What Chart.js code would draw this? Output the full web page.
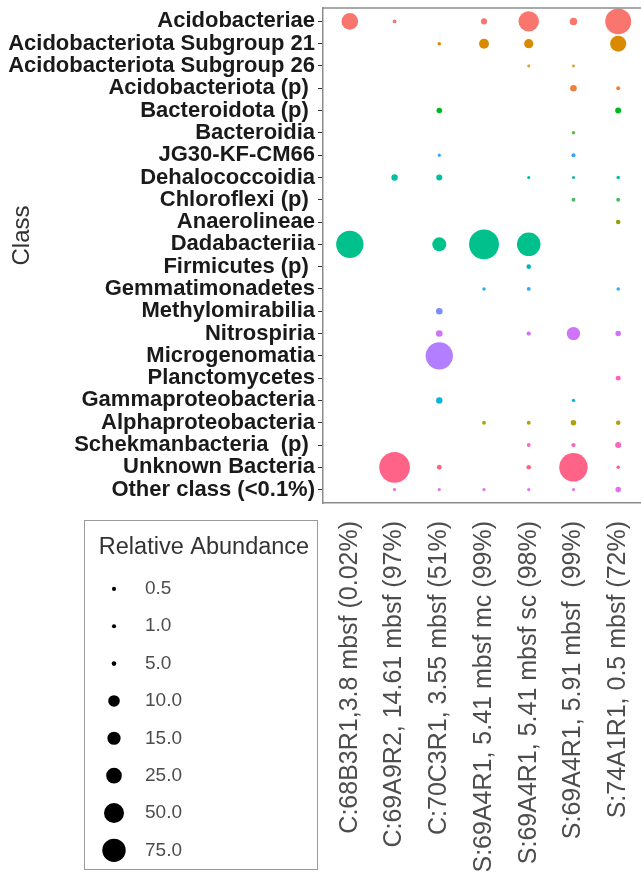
<!DOCTYPE html>
<html>
<head>
<meta charset="utf-8">
<script src="https://cdn.jsdelivr.net/npm/chart.js@4.4.1/dist/chart.umd.min.js"></script>
<style>
  html, body { margin: 0; padding: 0; background: #fff; overflow: hidden; }
  #wrap { position: relative; width: 641px; height: 880px; }
  #mainChart { position: absolute; left: 0; top: 0; }
  #legendBox { position: absolute; left: 84px; top: 520px; width: 232px; height: 348px;
               border: 1.5px solid #9a9a9a; background: #fff; }
</style>
</head>
<body>
<div id="wrap">
  <canvas id="mainChart" width="641" height="880"></canvas>
  <div id="legendBox"><canvas id="legendChart" width="232" height="348"></canvas></div>
</div>
<script>
// samples along the x axis
const samples = [
  'C:68B3R1,3.8 mbsf (0.02%)',
  'C:69A9R2, 14.61 mbsf (97%)',
  'C:70C3R1, 3.55 mbsf (51%)',
  'S:69A4R1, 5.41 mbsf mc (99%)',
  'S:69A4R1, 5.41 mbsf sc (98%)',
  'S:69A4R1, 5.91 mbsf  (99%)',
  'S:74A1R1, 0.5 mbsf (72%)'
];

// classes, top to bottom
const classes = [
  'Acidobacteriae',
  'Acidobacteriota Subgroup 21',
  'Acidobacteriota Subgroup 26',
  'Acidobacteriota (p) ',
  'Bacteroidota (p) ',
  'Bacteroidia',
  'JG30-KF-CM66',
  'Dehalococcoidia',
  'Chloroflexi (p) ',
  'Anaerolineae',
  'Dadabacteriia',
  'Firmicutes (p) ',
  'Gemmatimonadetes',
  'Methylomirabilia',
  'Nitrospiria',
  'Microgenomatia',
  'Planctomycetes',
  'Gammaproteobacteria',
  'Alphaproteobacteria',
  'Schekmanbacteria  (p) ',
  'Unknown Bacteria',
  'Other class (<0.1%)'
];

// relative abundance (%) per sample, one value per class (null = absent)
const c68B3R1   = [22.5, null, null, null, null, null, null, null, null, null, 61, null, null, null, null, null, null, null, null, null, null, null];
const c69A9R2   = [1.2, null, null, null, null, null, null, 3.3, null, null, null, null, null, null, null, null, null, null, null, null, 77, 0.8];
const c70C3R1   = [null, 1.0, null, null, 2.5, null, 0.8, 3.0, null, null, 16, null, null, 3.6, 3.6, 61, null, 3.3, null, null, 2.0, 0.8];
const s69A4R1mc = [3.0, 8, null, null, null, null, null, null, null, null, 73, null, 1.0, null, null, null, null, null, 1.2, null, null, 0.8];
const s69A4R1sc = [34, 7, 0.7, null, null, null, null, 0.8, null, null, 45, 1.7, 1.2, null, 1.5, null, null, null, 1.2, 1.2, 1.7, 0.8];
const s69A4R1   = [4.5, null, 0.7, 3.5, null, 1.0, 1.3, 0.8, 1.2, null, null, null, null, null, 14.5, null, null, 0.9, 2.5, 1.5, 66, 0.8];
const s74A1R1   = [55, 21, null, 1.3, 3.0, null, null, 1.0, 1.3, 1.7, null, null, 1.0, null, 2.5, null, 2.0, null, 1.7, 3.0, 1.0, 2.5];
const abundance = [c68B3R1, c69A9R2, c70C3R1, s69A4R1mc, s69A4R1sc, s69A4R1, s74A1R1];

// size legend values
const legendValues = [0.5, 1.0, 5.0, 10.0, 15.0, 25.0, 50.0, 75.0];

const classColors = [
  '#F8766D', '#D98A00', '#D9A030', '#EC7F3D', '#00B81F', '#6DB33F', '#35A2FF', '#00BFA5',
  '#4CB963', '#95A000', '#00C08B', '#00B8B8', '#35A9F0', '#7B8CFF', '#D173F7', '#B37EFF',
  '#FF5FB8', '#00B5E0', '#B0A010', '#FF66B8', '#FF6388', '#E56DF0'
];

Chart.defaults.font.family = '"Liberation Sans", Arial, sans-serif';

function bubbleRadius(v) { return 1.75 * Math.sqrt(v); }
// the legend keys in the original are drawn on their own (smaller) size steps
function legendRadius(v) { return v >= 10 ? 2 + 1.3 * Math.pow(v, 0.465) : 2 + 0.06 * v; }

const datasets = classes.map((cls, ci) => ({
  label: cls,
  data: abundance
    .map((col, si) => ({ x: si, y: ci, v: col[ci] }))
    .filter(p => p.v != null)
    .map(p => ({ x: p.x, y: p.y, r: bubbleRadius(p.v) })),
  backgroundColor: classColors[ci],
  borderWidth: 0
}));

const panelTop = {
  id: 'panelTop',
  afterDraw(chart) {
    const { ctx, chartArea } = chart;
    ctx.save();
    ctx.strokeStyle = '#8c8c8c';
    ctx.lineWidth = 1.5;
    ctx.beginPath();
    ctx.moveTo(chartArea.left, chartArea.top);
    ctx.lineTo(chartArea.right, chartArea.top);
    ctx.stroke();
    ctx.restore();
  }
};

new Chart(document.getElementById('mainChart'), {
  type: 'bubble',
  data: { datasets },
  options: {
    responsive: false,
    animation: false,
    layout: { autoPadding: false, padding: { top: 8, right: 0, bottom: 0, left: 0 } },
    plugins: { legend: { display: false }, tooltip: { enabled: false } },
    scales: {
      x: {
        type: 'linear',
        min: -0.6,
        max: 6.51,
        afterBuildTicks: s => { s.ticks = samples.map((_, i) => ({ value: i })); },
        afterFit: s => { s.height = 377; s.paddingLeft = 0; s.paddingRight = 0; },
        ticks: {
          autoSkip: false, minRotation: 90, maxRotation: 90, padding: 18,
          color: '#4d4d4d', font: { size: 25 },
          callback: v => samples[v]
        },
        grid: { display: false, drawTicks: false },
        border: { display: true, color: '#8c8c8c', width: 1.5 }
      },
      y: {
        type: 'linear',
        min: -0.6,
        max: 21.6,
        reverse: true,
        afterBuildTicks: s => { s.ticks = classes.map((_, i) => ({ value: i })); },
        afterFit: s => { s.width = 323; s.paddingTop = 0; s.paddingBottom = 0; },
        ticks: {
          autoSkip: false, padding: 3, color: '#1a1a1a',
          font: { size: 22, weight: 'bold' },
          callback: v => classes[v]
        },
        grid: { drawOnChartArea: false, drawTicks: true, tickLength: 5, color: '#333' },
        border: { display: true, color: '#8c8c8c', width: 1.5 },
        title: { display: true, text: '      Class', color: '#333', font: { size: 24 }, padding: { top: 8 } }
      }
    }
  },
  plugins: [panelTop]
});

new Chart(document.getElementById('legendChart'), {
  type: 'bubble',
  data: {
    datasets: [{
      data: legendValues.map((v, i) => ({ x: 0.5, y: i, r: legendRadius(v) })),
      backgroundColor: '#000',
      borderWidth: 0
    }]
  },
  options: {
    responsive: false,
    animation: false,
    layout: { autoPadding: false, padding: { left: 6, right: 0, top: 0, bottom: 0 } },
    plugins: {
      legend: { display: false },
      tooltip: { enabled: false },
      title: { display: true, text: 'Relative Abundance', color: '#333',
               font: { size: 23.5, weight: 'normal' }, padding: { top: 12, bottom: 9 } }
    },
    scales: {
      x: { type: 'linear', min: 0, max: 1, display: false },
      y: {
        type: 'linear', position: 'right', min: -0.5, max: 7.5, reverse: true,
        afterBuildTicks: s => { s.ticks = legendValues.map((_, i) => ({ value: i })); },
        afterFit: s => { s.width = 180; s.paddingTop = 0; s.paddingBottom = 0; },
        ticks: { padding: 8, color: '#4d4d4d', font: { size: 19 },
                 callback: v => legendValues[v].toFixed(1) },
        grid: { display: false, drawTicks: false },
        border: { display: false }
      }
    }
  }
});
</script>
</body>
</html>
